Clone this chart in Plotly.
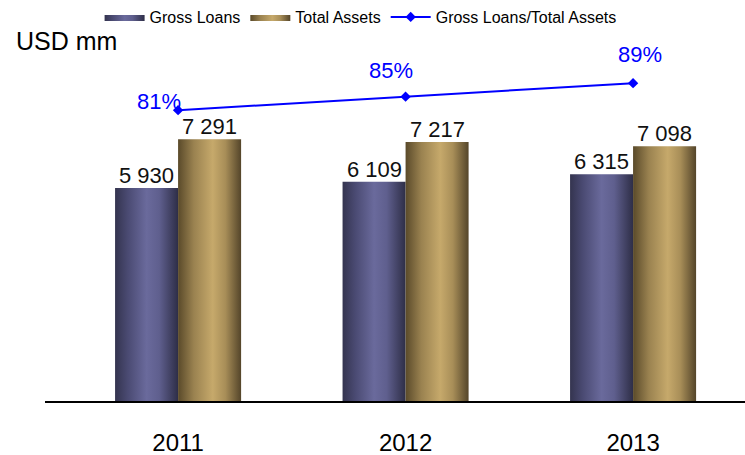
import plotly.graph_objects as go

# Balance-sheet figures, USD mm
years = ["2011", "2012", "2013"]
gross_loans = [5930, 6109, 6315]
total_assets = [7291, 7217, 7098]
loans_to_assets = [0.81, 0.85, 0.89]

series_names = ["Gross Loans", "Total Assets", "Gross Loans/Total Assets"]

# (xshift, yshift) of each ratio label relative to its marker
ratio_label_shifts = [(-19, 9), (-15, 26), (7, 29)]

BAR_W = 0.277
FONT = "Liberation Sans, Arial, sans-serif"

loans_scale = [[0.0, "#34344f"], [0.2, "#4a4a72"], [0.5, "#6a6a9c"],
               [0.7, "#5f5f8e"], [1.0, "#2e2e47"]]
assets_scale = [[0.0, "#5a4a2a"], [0.25, "#9a8250"], [0.55, "#c6a96b"],
                [0.75, "#a88e58"], [1.0, "#54452a"]]

fig = go.Figure()


def add_column_series(values, offset, name, scale, mid_color):
    for i, v in enumerate(values):
        x0 = i + offset
        x1 = x0 + BAR_W
        fig.add_trace(go.Scatter(
            x=[x0, x0, x1, x1, x0],
            y=[0, v, v, 0, 0],
            mode="lines",
            fill="toself",
            fillcolor=mid_color,
            fillgradient=dict(type="horizontal", colorscale=scale),
            line=dict(width=0, color=mid_color),
            name=name,
            legendgroup=name,
            showlegend=(i == 0),
            hoverinfo="skip",
        ))
        fig.add_annotation(
            x=(x0 + x1) / 2, y=v, xref="x", yref="y",
            text=f"{v:,}".replace(",", " "),
            showarrow=False, yanchor="bottom", yshift=-2,
            font=dict(family=FONT, size=22, color="#111111"),
        )


add_column_series(gross_loans, -BAR_W, series_names[0], loans_scale, "#5a5a88")
add_column_series(total_assets, 0.0, series_names[1], assets_scale, "#a88e58")

fig.add_trace(go.Scatter(
    x=list(range(len(years))),
    y=loans_to_assets,
    yaxis="y2",
    mode="lines+markers",
    name=series_names[2],
    line=dict(color="#0000ff", width=2),
    marker=dict(symbol="diamond", size=8, color="#0000ff"),
    hoverinfo="skip",
))

for i, (r, (dx, dy)) in enumerate(zip(loans_to_assets, ratio_label_shifts)):
    fig.add_annotation(
        x=i, y=r, xref="x", yref="y2",
        text=f"{round(r * 100)}%",
        showarrow=False, xshift=dx, yshift=dy,
        font=dict(family=FONT, size=22, color="#0000ff"),
    )

fig.add_annotation(
    x=-0.0443, y=1.003, xref="paper", yref="paper",
    xanchor="left", yanchor="middle",
    text="USD mm", showarrow=False,
    font=dict(family=FONT, size=25, color="#000000"),
)

fig.update_layout(
    width=745, height=455,
    margin=dict(l=45, r=0, t=42, b=54),
    paper_bgcolor="white",
    plot_bgcolor="white",
    font=dict(family=FONT, color="#000000"),
    showlegend=True,
    legend=dict(
        orientation="h",
        x=0.078, xanchor="left",
        y=1.0, yanchor="top", yref="container",
        font=dict(family=FONT, size=16, color="#000000"),
        itemwidth=40,
        tracegroupgap=0,
        bgcolor="rgba(0,0,0,0)",
    ),
    xaxis=dict(
        range=[-0.585, 2.492],
        tickmode="array",
        tickvals=list(range(len(years))),
        ticktext=years,
        showgrid=False, zeroline=False,
        showline=True, linecolor="#000000", linewidth=2,
        ticks="",
        ticklabelstandoff=19,
        tickfont=dict(family=FONT, size=24, color="#000000"),
        fixedrange=True,
    ),
    yaxis=dict(
        range=[0, 10000],
        visible=False, showgrid=False, zeroline=False,
        fixedrange=True,
    ),
    yaxis2=dict(
        range=[-0.052, 1.012],
        overlaying="y",
        visible=False, showgrid=False, zeroline=False,
        fixedrange=True,
    ),
)

fig.write_html("out.html")
